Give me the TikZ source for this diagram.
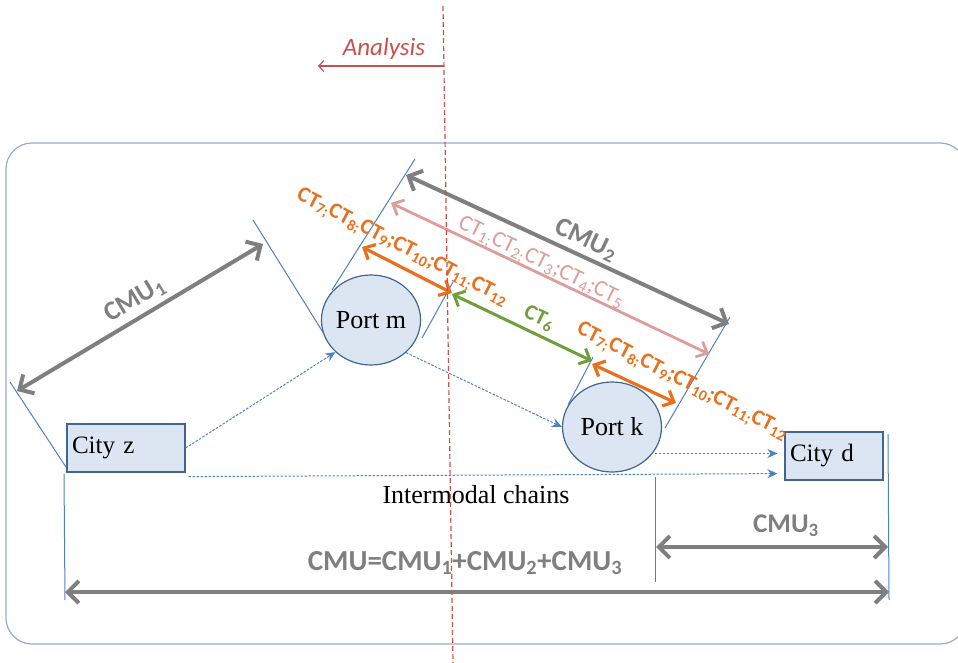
\documentclass[tikz,border=0pt]{standalone}
\usepackage{fontspec}
\setmainfont{Liberation Serif}
\newfontfamily\calib{Carlito}
\usetikzlibrary{arrows.meta,shapes.geometric}

\definecolor{dimgray}{HTML}{7F7F7F}
\definecolor{ctpink}{HTML}{DE9C9A}
\definecolor{ctorange}{HTML}{E8711F}
\definecolor{ctgreen}{HTML}{6F9E3A}
\definecolor{extblue}{HTML}{4F81BD}
\definecolor{nodefill}{HTML}{DCE6F2}
\definecolor{nodeline}{HTML}{41658F}
\definecolor{framecol}{HTML}{98AACB}
\definecolor{analysisred}{HTML}{C8504D}

\tikzset{
  citybox/.style={draw=nodeline, fill=nodefill, line width=1.2pt,
    minimum width=118pt, minimum height=48pt, inner sep=4pt,
    font=\fontsize{25}{28}\selectfont, text width=108pt, align=left},
  portnode/.style={ellipse, draw=nodeline, fill=nodefill, line width=1.2pt,
    minimum width=99pt, minimum height=90pt, inner sep=0pt,
    font=\fontsize{26}{28}\selectfont},
  extline/.style={draw=extblue, line width=1pt},
  flow/.style={draw=extblue, line width=1pt, dash pattern=on 2.5pt off 1.5pt,
    -{Stealth[length=10pt,width=9pt]}},
  dimarrow/.style={draw=dimgray, line width=4pt,
    {Straight Barb[length=11pt,width=22pt]}-{Straight Barb[length=11pt,width=22pt]}},
  ctarrow/.style={line width=3.2pt,
    {Straight Barb[length=9pt,width=17pt]}-{Straight Barb[length=9pt,width=17pt]}},
  dimlabel/.style={text=dimgray, font=\calib\bfseries\fontsize{27}{30}\selectfont, inner sep=0pt},
  ctlabel/.style={font=\calib\bfseries\fontsize{22}{24}\selectfont, inner sep=0pt},
}

\begin{document}
\begin{tikzpicture}[x=1pt, y=-1pt]
\useasboundingbox (0,0) rectangle (958,663);

% outer frame
\draw[framecol, line width=1.2pt, rounded corners=26pt] (6,143) rectangle (966,644);

% cities and ports
\node[citybox] (cityz) at (126,448) {City z};
\node[citybox, minimum width=98pt, text width=88pt] (cityd) at (834,456) {City d};
\node[portnode] (portm) at (371,320) {Port m};
\node[portnode] (portk) at (612,427) {Port k};

% intermodal chains
\draw[flow] (cityz.east) -- (portm.222);
\draw[flow] (portm.-43) -- (portk.west);
\draw[flow] ([xshift=2pt]portk.-33) -- ([xshift=-7pt]portk.-33 -| cityd.west);
\draw[flow] ([xshift=3pt,yshift=-4pt]cityz.south east) -- ([xshift=-7pt,yshift=7pt]cityd.south west);
\node[font=\fontsize{26}{28}\selectfont] (chains) at (476,495) {Intermodal chains};

% extension lines
\coordinate (e1a) at (10,382);   \coordinate (e1b) at (66,467);
\coordinate (e2a) at (253,220);  \coordinate (e2b) at (324,334);
\coordinate (e3a) at (415,159);  \coordinate (e3b) at (332,290);
\coordinate (e4a) at (453,282);  \coordinate (e4b) at (422,338);
\coordinate (e5a) at (593,357);  \coordinate (e5b) at (568,405);
\coordinate (e6a) at (730,317);  \coordinate (e6b) at (665,428);
\coordinate (e7a) at (655,477);  \coordinate (e7b) at (655,582);
\coordinate (e8a) at (888,434);  \coordinate (e8b) at (889,600);
\coordinate (e9a) at (64,474);   \coordinate (e9b) at (65,600);
\foreach \a/\b in {e1a/e1b,e2a/e2b,e3a/e3b,e4a/e4b,e5a/e5b,e6a/e6b,e7a/e7b,e8a/e8b,e9a/e9b}
  \draw[extline] (\a) -- (\b);

% CMU dimension arrows
\coordinate (c1a) at (17,391);   \coordinate (c1b) at (263,244);
\draw[dimarrow] (c1a) -- (c1b);
\node[dimlabel, rotate=31] (cmu1) at (135,300) {CMU\textsubscript{1}};

\coordinate (c2a) at (406,175);  \coordinate (c2b) at (729,324);
\draw[dimarrow] (c2a) -- (c2b);
\node[dimlabel, rotate=-25] (cmu2) at (586,240) {CMU\textsubscript{2}};

\coordinate (c3a) at (656,547);  \coordinate (c3b) at (888,547);
\draw[dimarrow] (c3a) -- (c3b);
\node[dimlabel] (cmu3) at (786,526) {CMU\textsubscript{3}};

\coordinate (c4a) at (65,592);   \coordinate (c4b) at (889,592);
\draw[dimarrow] (c4a) -- (c4b);
\node[dimlabel, font=\calib\bfseries\fontsize{29}{31}\selectfont] (cmu) at (465,563)
  {CMU=CMU\textsubscript{1}+CMU\textsubscript{2}+CMU\textsubscript{3}};

% cost terms along the port-to-port leg
\coordinate (t1a) at (391,203);  \coordinate (t1b) at (709,354);
\draw[ctarrow, ctpink, line width=2.8pt] (t1a) -- (t1b);
\node[ctlabel, text=ctpink, font=\calib\fontsize{23}{25}\selectfont, rotate=-26] (ct15) at (541,263)
  {CT\textsubscript{1;}CT\textsubscript{2;}CT\textsubscript{3};CT\textsubscript{4};CT\textsubscript{5}};

\coordinate (t2a) at (362,247);  \coordinate (t2b) at (452,293);
\draw[ctarrow, ctorange] (t2a) -- (t2b);
\node[ctlabel, text=ctorange, rotate=-27] (ct712a) at (402,248)
  {CT\textsubscript{7;}CT\textsubscript{8;}CT\textsubscript{9};CT\textsubscript{10};CT\textsubscript{11;}CT\textsubscript{12}};

\coordinate (t3a) at (452,294);  \coordinate (t3b) at (592,361);
\draw[ctarrow, ctgreen, line width=3pt] (t3a) -- (t3b);
\node[ctlabel, text=ctgreen, rotate=-26] (ct6) at (539,318) {CT\textsubscript{6}};

\coordinate (t4a) at (592,364);  \coordinate (t4b) at (676,403);
\draw[ctarrow, ctorange] (t4a) -- (t4b);
\node[ctlabel, text=ctorange, rotate=-27] (ct712b) at (682,382)
  {CT\textsubscript{7;}CT\textsubscript{8;}CT\textsubscript{9};CT\textsubscript{10};CT\textsubscript{11;}CT\textsubscript{12}};

% analysis direction
\coordinate (r1) at (443,6);     \coordinate (r2) at (453,663);
\draw[analysisred, line width=1.2pt, dash pattern=on 5pt off 3pt] (r1) -- (r2);
\coordinate (an1) at (444,66);   \coordinate (an2) at (318,66);
\draw[analysisred, line width=1.2pt, -{Straight Barb[length=5pt,width=11pt]}] (an1) -- (an2);
\node[text=analysisred, font=\calib\itshape\fontsize{25}{27}\selectfont] (analysis) at (384,49) {Analysis};
\end{tikzpicture}
\end{document}
